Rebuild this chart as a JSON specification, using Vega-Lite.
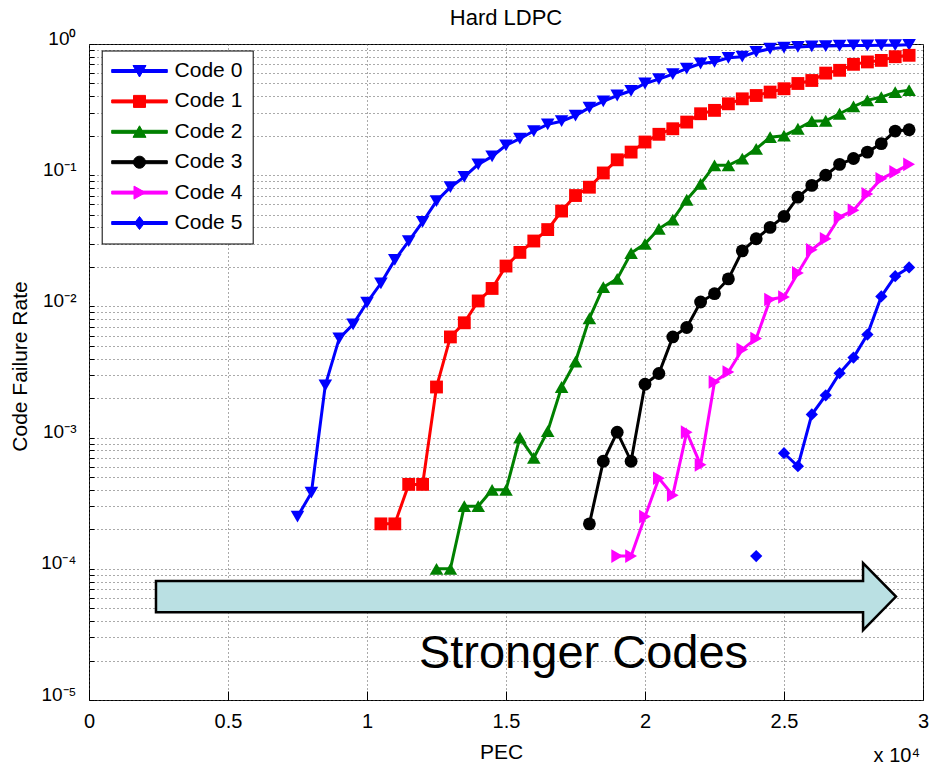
{
  "$schema": "https://vega.github.io/schema/vega-lite/v6.json",
  "autosize": {"type": "none"},
  "padding": {"left": 89, "top": 44, "right": 7, "bottom": 67},
  "width": 834,
  "height": 656,
  "background": "white",
  "title": {"text": "Hard LDPC", "fontSize": 22, "font": "Liberation Sans", "fontWeight": "normal", "color": "black", "offset": 2, "dy": 3},
  "config": {
    "font": "Liberation Sans",
    "view": {"stroke": "black", "strokeWidth": 1},
    "axis": {"labelFont": "Liberation Sans", "titleFont": "Liberation Sans", "labelColor": "black", "titleColor": "black", "titleFontWeight": "normal", "grid": true, "gridColor": "#555555", "gridDash": [1, 3], "gridWidth": 1, "domain": false, "tickColor": "black", "labelOverlap": false}
  },
  "datasets": {
    "codes": [
      {"code": "Code 0", "pec": 7500, "rate": 0.00025},
      {"code": "Code 0", "pec": 8000, "rate": 0.00038},
      {"code": "Code 0", "pec": 8500, "rate": 0.0025},
      {"code": "Code 0", "pec": 9000, "rate": 0.0057},
      {"code": "Code 0", "pec": 9500, "rate": 0.0073},
      {"code": "Code 0", "pec": 10000, "rate": 0.0107},
      {"code": "Code 0", "pec": 10500, "rate": 0.015},
      {"code": "Code 0", "pec": 11000, "rate": 0.0226},
      {"code": "Code 0", "pec": 11500, "rate": 0.0314},
      {"code": "Code 0", "pec": 12000, "rate": 0.044},
      {"code": "Code 0", "pec": 12500, "rate": 0.0635},
      {"code": "Code 0", "pec": 13000, "rate": 0.081},
      {"code": "Code 0", "pec": 13500, "rate": 0.097},
      {"code": "Code 0", "pec": 14000, "rate": 0.121},
      {"code": "Code 0", "pec": 14500, "rate": 0.139},
      {"code": "Code 0", "pec": 15000, "rate": 0.169},
      {"code": "Code 0", "pec": 15500, "rate": 0.19},
      {"code": "Code 0", "pec": 16000, "rate": 0.217},
      {"code": "Code 0", "pec": 16500, "rate": 0.244},
      {"code": "Code 0", "pec": 17000, "rate": 0.258},
      {"code": "Code 0", "pec": 17500, "rate": 0.285},
      {"code": "Code 0", "pec": 18000, "rate": 0.327},
      {"code": "Code 0", "pec": 18500, "rate": 0.365},
      {"code": "Code 0", "pec": 19000, "rate": 0.405},
      {"code": "Code 0", "pec": 19500, "rate": 0.44},
      {"code": "Code 0", "pec": 20000, "rate": 0.5},
      {"code": "Code 0", "pec": 20500, "rate": 0.54},
      {"code": "Code 0", "pec": 21000, "rate": 0.59},
      {"code": "Code 0", "pec": 21500, "rate": 0.65},
      {"code": "Code 0", "pec": 22000, "rate": 0.71},
      {"code": "Code 0", "pec": 22500, "rate": 0.73},
      {"code": "Code 0", "pec": 23000, "rate": 0.785},
      {"code": "Code 0", "pec": 23500, "rate": 0.8},
      {"code": "Code 0", "pec": 24000, "rate": 0.87},
      {"code": "Code 0", "pec": 24500, "rate": 0.92},
      {"code": "Code 0", "pec": 25000, "rate": 0.94},
      {"code": "Code 0", "pec": 25500, "rate": 0.95},
      {"code": "Code 0", "pec": 26000, "rate": 0.96},
      {"code": "Code 0", "pec": 26500, "rate": 0.965},
      {"code": "Code 0", "pec": 27000, "rate": 0.97},
      {"code": "Code 0", "pec": 27500, "rate": 0.975},
      {"code": "Code 0", "pec": 28000, "rate": 0.975},
      {"code": "Code 0", "pec": 28500, "rate": 0.98},
      {"code": "Code 0", "pec": 29000, "rate": 0.98},
      {"code": "Code 0", "pec": 29500, "rate": 0.985},
      {"code": "Code 1", "pec": 10500, "rate": 0.00022},
      {"code": "Code 1", "pec": 11000, "rate": 0.00022},
      {"code": "Code 1", "pec": 11500, "rate": 0.00044},
      {"code": "Code 1", "pec": 12000, "rate": 0.00044},
      {"code": "Code 1", "pec": 12500, "rate": 0.00243},
      {"code": "Code 1", "pec": 13000, "rate": 0.00585},
      {"code": "Code 1", "pec": 13500, "rate": 0.0075},
      {"code": "Code 1", "pec": 14000, "rate": 0.011},
      {"code": "Code 1", "pec": 14500, "rate": 0.0137},
      {"code": "Code 1", "pec": 15000, "rate": 0.0203},
      {"code": "Code 1", "pec": 15500, "rate": 0.0258},
      {"code": "Code 1", "pec": 16000, "rate": 0.0315},
      {"code": "Code 1", "pec": 16500, "rate": 0.0385},
      {"code": "Code 1", "pec": 17000, "rate": 0.0533},
      {"code": "Code 1", "pec": 17500, "rate": 0.07},
      {"code": "Code 1", "pec": 18000, "rate": 0.081},
      {"code": "Code 1", "pec": 18500, "rate": 0.104},
      {"code": "Code 1", "pec": 19000, "rate": 0.131},
      {"code": "Code 1", "pec": 19500, "rate": 0.15},
      {"code": "Code 1", "pec": 20000, "rate": 0.179},
      {"code": "Code 1", "pec": 20500, "rate": 0.205},
      {"code": "Code 1", "pec": 21000, "rate": 0.226},
      {"code": "Code 1", "pec": 21500, "rate": 0.254},
      {"code": "Code 1", "pec": 22000, "rate": 0.294},
      {"code": "Code 1", "pec": 22500, "rate": 0.312},
      {"code": "Code 1", "pec": 23000, "rate": 0.35},
      {"code": "Code 1", "pec": 23500, "rate": 0.382},
      {"code": "Code 1", "pec": 24000, "rate": 0.405},
      {"code": "Code 1", "pec": 24500, "rate": 0.43},
      {"code": "Code 1", "pec": 25000, "rate": 0.456},
      {"code": "Code 1", "pec": 25500, "rate": 0.5},
      {"code": "Code 1", "pec": 26000, "rate": 0.527},
      {"code": "Code 1", "pec": 26500, "rate": 0.6},
      {"code": "Code 1", "pec": 27000, "rate": 0.63},
      {"code": "Code 1", "pec": 27500, "rate": 0.7},
      {"code": "Code 1", "pec": 28000, "rate": 0.73},
      {"code": "Code 1", "pec": 28500, "rate": 0.75},
      {"code": "Code 1", "pec": 29000, "rate": 0.8},
      {"code": "Code 1", "pec": 29500, "rate": 0.82},
      {"code": "Code 2", "pec": 12500, "rate": 0.0001},
      {"code": "Code 2", "pec": 13000, "rate": 0.0001},
      {"code": "Code 2", "pec": 13500, "rate": 0.0003},
      {"code": "Code 2", "pec": 14000, "rate": 0.0003},
      {"code": "Code 2", "pec": 14500, "rate": 0.0004},
      {"code": "Code 2", "pec": 15000, "rate": 0.0004},
      {"code": "Code 2", "pec": 15500, "rate": 0.001},
      {"code": "Code 2", "pec": 16000, "rate": 0.0007},
      {"code": "Code 2", "pec": 16500, "rate": 0.00112},
      {"code": "Code 2", "pec": 17000, "rate": 0.00243},
      {"code": "Code 2", "pec": 17500, "rate": 0.0038},
      {"code": "Code 2", "pec": 18000, "rate": 0.0081},
      {"code": "Code 2", "pec": 18500, "rate": 0.014},
      {"code": "Code 2", "pec": 19000, "rate": 0.0162},
      {"code": "Code 2", "pec": 19500, "rate": 0.0255},
      {"code": "Code 2", "pec": 20000, "rate": 0.03},
      {"code": "Code 2", "pec": 20500, "rate": 0.039},
      {"code": "Code 2", "pec": 21000, "rate": 0.0458},
      {"code": "Code 2", "pec": 21500, "rate": 0.065},
      {"code": "Code 2", "pec": 22000, "rate": 0.086},
      {"code": "Code 2", "pec": 22500, "rate": 0.119},
      {"code": "Code 2", "pec": 23000, "rate": 0.119},
      {"code": "Code 2", "pec": 23500, "rate": 0.134},
      {"code": "Code 2", "pec": 24000, "rate": 0.159},
      {"code": "Code 2", "pec": 24500, "rate": 0.195},
      {"code": "Code 2", "pec": 25000, "rate": 0.2},
      {"code": "Code 2", "pec": 25500, "rate": 0.226},
      {"code": "Code 2", "pec": 26000, "rate": 0.258},
      {"code": "Code 2", "pec": 26500, "rate": 0.26},
      {"code": "Code 2", "pec": 27000, "rate": 0.294},
      {"code": "Code 2", "pec": 27500, "rate": 0.334},
      {"code": "Code 2", "pec": 28000, "rate": 0.372},
      {"code": "Code 2", "pec": 28500, "rate": 0.394},
      {"code": "Code 2", "pec": 29000, "rate": 0.43},
      {"code": "Code 2", "pec": 29500, "rate": 0.445},
      {"code": "Code 3", "pec": 18000, "rate": 0.00022},
      {"code": "Code 3", "pec": 18500, "rate": 0.00066},
      {"code": "Code 3", "pec": 19000, "rate": 0.0011},
      {"code": "Code 3", "pec": 19500, "rate": 0.00066},
      {"code": "Code 3", "pec": 20000, "rate": 0.00255},
      {"code": "Code 3", "pec": 20500, "rate": 0.00308},
      {"code": "Code 3", "pec": 21000, "rate": 0.00585},
      {"code": "Code 3", "pec": 21500, "rate": 0.0069},
      {"code": "Code 3", "pec": 22000, "rate": 0.0108},
      {"code": "Code 3", "pec": 22500, "rate": 0.0125},
      {"code": "Code 3", "pec": 23000, "rate": 0.0162},
      {"code": "Code 3", "pec": 23500, "rate": 0.0265},
      {"code": "Code 3", "pec": 24000, "rate": 0.0328},
      {"code": "Code 3", "pec": 24500, "rate": 0.04},
      {"code": "Code 3", "pec": 25000, "rate": 0.0485},
      {"code": "Code 3", "pec": 25500, "rate": 0.068},
      {"code": "Code 3", "pec": 26000, "rate": 0.0836},
      {"code": "Code 3", "pec": 26500, "rate": 0.1},
      {"code": "Code 3", "pec": 27000, "rate": 0.121},
      {"code": "Code 3", "pec": 27500, "rate": 0.134},
      {"code": "Code 3", "pec": 28000, "rate": 0.15},
      {"code": "Code 3", "pec": 28500, "rate": 0.174},
      {"code": "Code 3", "pec": 29000, "rate": 0.217},
      {"code": "Code 3", "pec": 29500, "rate": 0.222},
      {"code": "Code 4", "pec": 19000, "rate": 0.000125},
      {"code": "Code 4", "pec": 19500, "rate": 0.000125},
      {"code": "Code 4", "pec": 20000, "rate": 0.00025},
      {"code": "Code 4", "pec": 20500, "rate": 0.00049},
      {"code": "Code 4", "pec": 21000, "rate": 0.000364},
      {"code": "Code 4", "pec": 21500, "rate": 0.0011},
      {"code": "Code 4", "pec": 22000, "rate": 0.00062},
      {"code": "Code 4", "pec": 22500, "rate": 0.00265},
      {"code": "Code 4", "pec": 23000, "rate": 0.00316},
      {"code": "Code 4", "pec": 23500, "rate": 0.0047},
      {"code": "Code 4", "pec": 24000, "rate": 0.0057},
      {"code": "Code 4", "pec": 24500, "rate": 0.0113},
      {"code": "Code 4", "pec": 25000, "rate": 0.0118},
      {"code": "Code 4", "pec": 25500, "rate": 0.018},
      {"code": "Code 4", "pec": 26000, "rate": 0.027},
      {"code": "Code 4", "pec": 26500, "rate": 0.0328},
      {"code": "Code 4", "pec": 27000, "rate": 0.048},
      {"code": "Code 4", "pec": 27500, "rate": 0.054},
      {"code": "Code 4", "pec": 28000, "rate": 0.072},
      {"code": "Code 4", "pec": 28500, "rate": 0.094},
      {"code": "Code 4", "pec": 29000, "rate": 0.106},
      {"code": "Code 4", "pec": 29500, "rate": 0.121},
      {"code": "Code 5", "pec": 24000, "rate": 0.000125},
      {"code": "Code 5", "pec": 24500, "rate": null},
      {"code": "Code 5", "pec": 25000, "rate": 0.00076},
      {"code": "Code 5", "pec": 25500, "rate": 0.000605},
      {"code": "Code 5", "pec": 26000, "rate": 0.0015},
      {"code": "Code 5", "pec": 26500, "rate": 0.0021},
      {"code": "Code 5", "pec": 27000, "rate": 0.0031},
      {"code": "Code 5", "pec": 27500, "rate": 0.00407},
      {"code": "Code 5", "pec": 28000, "rate": 0.0061},
      {"code": "Code 5", "pec": 28500, "rate": 0.0119},
      {"code": "Code 5", "pec": 29000, "rate": 0.017},
      {"code": "Code 5", "pec": 29500, "rate": 0.0198}
    ]
  },
  "encoding": {
    "x": {
      "field": "pec", "type": "quantitative",
      "scale": {"domain": [0, 30000], "nice": false, "zero": false},
      "axis": {
        "values": [0, 5000, 10000, 15000, 20000, 25000, 30000],
        "labelExpr": "datum.value / 10000",
        "labelFontSize": 20, "labelFlush": false, "labelPadding": 20, "tickSize": -9,
        "title": "PEC", "titleFontSize": 21, "titleX": 412, "titleY": 58, "titleBaseline": "alphabetic", "titleAnchor": null
      }
    },
    "y": {
      "field": "rate", "type": "quantitative",
      "scale": {"type": "log", "domain": [0.00001, 1], "nice": false},
      "axis": {
        "tickCount": 50,
        "labelExpr": "abs(log(datum.value)/LN10 - round(log(datum.value)/LN10)) < 0.001 ? ['10⁰','10⁻¹','10⁻²','10⁻³','10⁻⁴','10⁻⁵'][-round(log(datum.value)/LN10)] : ''",
        "labelFontSize": 19, "labelBaseline": "alphabetic", "labelPadding": 18, "tickSize": -5,
        "title": "Code Failure Rate", "titleFontSize": 21, "titleX": -69, "titleY": 322, "titleBaseline": "middle", "titleAnchor": null
      }
    },
    "color": {
      "field": "code", "type": "nominal",
      "scale": {"domain": ["Code 0", "Code 1", "Code 2", "Code 3", "Code 4", "Code 5"], "range": ["#0000FF", "#FF0000", "#008000", "#000000", "#FF00FF", "#0000FF"]},
      "legend": {
        "title": null, "orient": "none", "legendX": 12.7, "legendY": 6.5,
        "strokeColor": "black", "fillColor": "white", "padding": 10,
        "labelFont": "Liberation Sans", "labelFontSize": 21, "labelColor": "black",
        "symbolSize": 400, "symbolStrokeWidth": 1, "symbolOpacity": 1, "symbolOffset": 17.3, "labelOffset": 24.6, "rowPadding": 8.4
      }
    }
  },
  "layer": [
    {
      "data": {"values": [{"pec": 15719, "rate": 0.0000614}]},
      "mark": {"type": "point", "shape": "M-1,-0.042L0.911,-0.042L0.911,-0.0905L1,0L0.911,0.0905L0.911,0.042L-1,0.042Z", "size": 547600, "filled": true, "fill": "#BAE0E3", "stroke": "black", "strokeWidth": 2.5, "opacity": 1, "clip": false},
      "encoding": {"color": null}
    },
    {
      "data": {"name": "codes"},
      "layer": [
        {
          "mark": {"type": "line", "strokeWidth": 3, "invalid": "break-paths-show-domains"}
        },
        {
          "mark": {"type": "point", "filled": true, "size": 400, "opacity": 0},
          "encoding": {
            "shape": {
              "field": "code", "type": "nominal",
              "scale": {
                "domain": ["Code 0", "Code 1", "Code 2", "Code 3", "Code 4", "Code 5"],
                "range": [
                  "M-2.78,-0.15H2.78V0.15H-2.78ZM-0.65,-0.55H0.65L0,0.6Z",
                  "M-2.78,-0.15H2.78V0.15H-2.78ZM-0.6,-0.6H0.6V0.6H-0.6Z",
                  "M-2.78,-0.15H2.78V0.15H-2.78ZM0,-0.6L0.65,0.55H-0.65Z",
                  "M-2.78,-0.15H2.78V0.15H-2.78ZM-0.6,0A0.6,0.6,0,1,1,0.6,0A0.6,0.6,0,1,1,-0.6,0Z",
                  "M-2.78,-0.15H2.78V0.15H-2.78ZM-0.55,-0.65L0.6,0L-0.55,0.65Z",
                  "M-2.78,-0.15H2.78V0.15H-2.78ZM0,-0.65L0.5,0L0,0.65L-0.5,0Z"
                ]
              },
              "legend": {
                "title": null, "orient": "none", "legendX": 12.7, "legendY": 6.5,
                "strokeColor": "black", "fillColor": "white", "padding": 10,
                "labelFont": "Liberation Sans", "labelFontSize": 21, "labelColor": "black",
                "symbolSize": 400, "symbolStrokeWidth": 1, "symbolOpacity": 1, "symbolOffset": 17.3, "labelOffset": 24.6, "rowPadding": 8.4
              }
            }
          }
        },
        {
          "transform": [{"filter": "datum.code === 'Code 0'"}],
          "mark": {"type": "point", "shape": "triangle-down", "filled": true, "size": 185, "opacity": 1}
        },
        {
          "transform": [{"filter": "datum.code === 'Code 1'"}],
          "mark": {"type": "point", "shape": "square", "filled": true, "size": 165, "opacity": 1}
        },
        {
          "transform": [{"filter": "datum.code === 'Code 2'"}],
          "mark": {"type": "point", "shape": "triangle-up", "filled": true, "size": 185, "opacity": 1}
        },
        {
          "transform": [{"filter": "datum.code === 'Code 3'"}],
          "mark": {"type": "point", "shape": "circle", "filled": true, "size": 165, "opacity": 1}
        },
        {
          "transform": [{"filter": "datum.code === 'Code 4'"}],
          "mark": {"type": "point", "shape": "triangle-right", "filled": true, "size": 185, "opacity": 1}
        },
        {
          "transform": [{"filter": "datum.code === 'Code 5'"}],
          "mark": {"type": "point", "shape": "diamond", "filled": true, "size": 150, "opacity": 1}
        }
      ]
    },
    {
      "data": {"values": [{"pec": 17788, "rate": 0.0000176, "label": "Stronger Codes"}]},
      "mark": {"type": "text", "fontSize": 47, "font": "Liberation Sans", "align": "center", "baseline": "alphabetic", "color": "black", "clip": false},
      "encoding": {"text": {"field": "label"}, "color": null}
    },
    {
      "data": {"values": [{"pec": 29892, "rate": 0.00000337, "label": "x 10⁴"}]},
      "mark": {"type": "text", "fontSize": 20, "font": "Liberation Sans", "align": "right", "baseline": "alphabetic", "color": "black", "clip": false},
      "encoding": {"text": {"field": "label"}, "color": null}
    }
  ]
}
